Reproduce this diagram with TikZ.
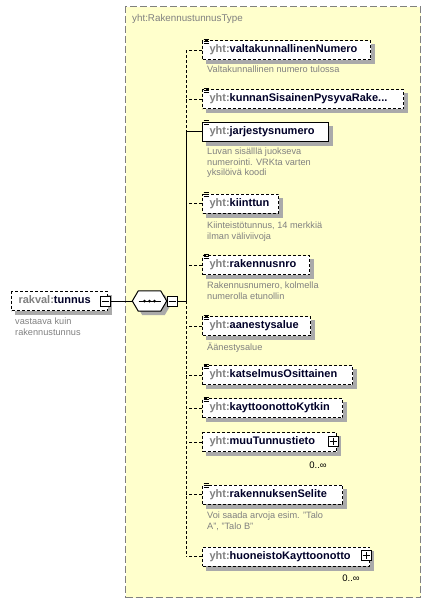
\documentclass[tikz,border=0pt]{standalone}
\usepackage{fontspec}
\setmainfont{Liberation Sans}
\usetikzlibrary{calc}
\definecolor{bgyellow}{RGB}{255,255,204}
\definecolor{framegray}{RGB}{128,128,128}
\definecolor{descgray}{RGB}{128,128,128}
\definecolor{prefgray}{RGB}{128,128,128}
\definecolor{shadowgray}{RGB}{170,170,170}
\definecolor{namecol}{RGB}{0,0,40}
\newcommand\pre{\textcolor{prefgray}{yht:}}
\newcommand\eqicon[1]{\draw[line width=0.6pt] ($(#1.north west)+(1.5,-1)$) -- +(5,0) ($(#1.north west)+(1.5,1)$) -- +(5,0) ($(#1.north west)+(1.5,3)$) -- +(5,0);}
\tikzset{
  typebox/.style={draw=framegray, fill=bgyellow, line width=1pt, dash pattern=on 7pt off 3pt, anchor=north west, minimum width=295pt, minimum height=591pt, inner sep=0pt},
  elem/.style={draw=black, fill=white, line width=1pt, anchor=west, minimum height=19pt, inner xsep=7pt, inner ysep=0pt, align=left, text height=8pt, text depth=2.5pt, text=namecol, font=\fontsize{11}{13}\selectfont\bfseries},
  shadowbox/.style={draw=shadowgray, line width=0.5pt, fill=shadowgray, anchor=west, minimum height=19pt, inner sep=0pt},
  opt/.style={dash pattern=on 3pt off 2pt},
  conn/.style={draw=black, line width=1pt},
  desc/.style={anchor=north west, inner sep=0pt, align=left, text=descgray, font=\fontsize{9.2}{10.5}\selectfont},
  pm/.style={draw=black, fill=white, line width=0.8pt, minimum size=10pt, inner sep=0pt},
  seqbox/.style={minimum width=34pt, minimum height=20pt, inner sep=0pt},
  occ/.style={inner sep=0pt, font=\fontsize{9.5}{11}\selectfont},
  titlefont/.style={inner sep=0pt, text=prefgray, font=\fontsize{9.8}{11}\selectfont}
}
\begin{document}
\begin{tikzpicture}[x=1pt,y=-1pt]
\useasboundingbox (0,0) rectangle (431,603);
\node[typebox] (tb) at (125,6) {};
\node[titlefont, anchor=west] (tt) at (132,19) {yht:RakennustunnusType};

% shadows (drawn first)
\node[shadowbox, minimum width=168pt] (s1) at (206,54) {};
\node[shadowbox, minimum width=201pt] (s2) at (206,103) {};
\node[shadowbox, minimum width=126pt] (s3) at (206,135.5) {};
\node[shadowbox, minimum width=76pt] (s4) at (206,207.5) {};
\node[shadowbox, minimum width=107pt] (s5) at (206,269) {};
\node[shadowbox, minimum width=108pt] (s6) at (206,330) {};
\node[shadowbox, minimum width=150pt] (s7) at (206,379) {};
\node[shadowbox, minimum width=140pt] (s8) at (206,412) {};
\node[shadowbox, minimum width=134pt] (s9) at (206,446) {};
\node[shadowbox, minimum width=140pt] (s10) at (206,498.5) {};
\node[shadowbox, minimum width=167pt] (s11) at (206,560.5) {};
\node[shadowbox, minimum width=96pt] (sr) at (15,305) {};

% vertical bus
\coordinate (vtop) at (186,50);
\coordinate (vj) at (186,131.5);
\coordinate (vs) at (186,301);
\coordinate (vbot) at (186,556.5);
\draw[conn,opt] (vtop) -- (vj);
\draw[conn] (vj) -- (vs);
\draw[conn,opt] (vs) -- (vbot);

% elements
\node[elem,opt, minimum width=168pt, text width=154pt] (e1) at (202,50) {\pre valtakunnallinenNumero};
\node[desc] (d1) at (207,66) {Valtakunnallinen numero tulossa};
\node[elem,opt, minimum width=201pt, text width=187pt] (e2) at (202,99) {\pre kunnanSisainenPysyvaRake...};
\node[elem, minimum width=126pt, text width=112pt] (e3) at (202,131.5) {\pre jarjestysnumero};
\node[desc] (d3) at (207,148) {Luvan sisälllä juokseva\\numerointi. VRKta varten\\yksilöivä koodi};
\node[elem,opt, minimum width=76pt, text width=62pt] (e4) at (202,203.5) {\pre kiinttun};
\node[desc] (d4) at (207,222) {Kiinteistötunnus, 14 merkkiä\\ilman väliviivoja};
\node[elem,opt, minimum width=107pt, text width=93pt] (e5) at (202,265) {\pre rakennusnro};
\node[desc] (d5) at (207,282) {Rakennusnumero, kolmella\\numerolla etunollin};
\node[elem,opt, minimum width=108pt, text width=94pt] (e6) at (202,326) {\pre aanestysalue};
\node[desc] (d6) at (207,343) {Äänestysalue};
\node[elem,opt, minimum width=150pt, text width=136pt] (e7) at (202,375) {\pre katselmusOsittainen};
\node[elem,opt, minimum width=140pt, text width=126pt] (e8) at (202,408) {\pre kayttoonottoKytkin};
\node[elem,opt, minimum width=134pt, text width=120pt] (e9) at (202,442) {\pre muuTunnustieto};
\node[occ] (o9) at (318,465) {0..∞};
\node[elem,opt, minimum width=140pt, text width=126pt] (e10) at (202,494.5) {\pre rakennuksenSelite};
\node[desc] (d10) at (207,512) {Voi saada arvoja esim. "Talo\\A", "Talo B"};
\node[elem,opt, minimum width=167pt, text width=153pt] (e11) at (202,556.5) {\pre huoneistoKayttoonotto};
\node[occ] (o11) at (351,578) {0..∞};

\foreach \n in {e1,e2,e3,e4,e5,e6,e7,e8,e10} {\eqicon{\n}}

% plus boxes
\node[pm] (p9) at (333,441) {};
\draw[line width=0.8pt] ($(p9.center)+(-3.5,0)$) -- +(7,0) ($(p9.center)+(0,-3.5)$) -- +(0,7);
\node[pm] (p11) at (366,555.5) {};
\draw[line width=0.8pt] ($(p11.center)+(-3.5,0)$) -- +(7,0) ($(p11.center)+(0,-3.5)$) -- +(0,7);

% connectors to elements
\foreach \n in {e1,e2,e4,e5,e6,e7,e8,e9,e10,e11} {\draw[conn,opt] (\n.west) -- (\n.west -| vtop);}
\draw[conn] (e3.west) -- (e3.west -| vtop);

% root element
\node[elem,opt, minimum width=96pt, text width=82pt] (root) at (11,301) {\textcolor{prefgray}{rakval:}tunnus};
\node[desc] (dr) at (15,318) {vastaava kuin\\rakennustunnus};
\node[pm] (rootm) at (105,301) {};
\draw[line width=0.8pt] ($(rootm.center)+(-3.5,0)$) -- +(7,0);

% sequence compositor
\node[seqbox] (seq) at (149.5,301) {};
\fill[shadowgray] ($(seq.west)+(4,4)$) -- ($(seq.north west)+(10,4)$) -- ($(seq.north east)+(-2,4)$) -- ($(seq.east)+(4,4)$) -- ($(seq.south east)+(-2,4)$) -- ($(seq.south west)+(10,4)$) -- cycle;
\draw[line width=1pt, fill=white] (seq.west) -- ($(seq.north west)+(6,0)$) -- ($(seq.north east)+(-6,0)$) -- (seq.east) -- ($(seq.south east)+(-6,0)$) -- ($(seq.south west)+(6,0)$) -- cycle;
\draw[line width=1pt] ($(seq.center)+(-11,0)$) -- +(22,0);
\foreach \dx in {-5,0,5} {\fill ($(seq.center)+(\dx,0)$) circle (1.5);}
\node[pm] (seqm) at (172,301) {};
\draw[line width=0.8pt] ($(seqm.center)+(-3.5,0)$) -- +(7,0);

\draw[conn] (rootm.east) -- (seq.west);
\draw[conn] (seqm.east) -- (vs);
\end{tikzpicture}
\end{document}
